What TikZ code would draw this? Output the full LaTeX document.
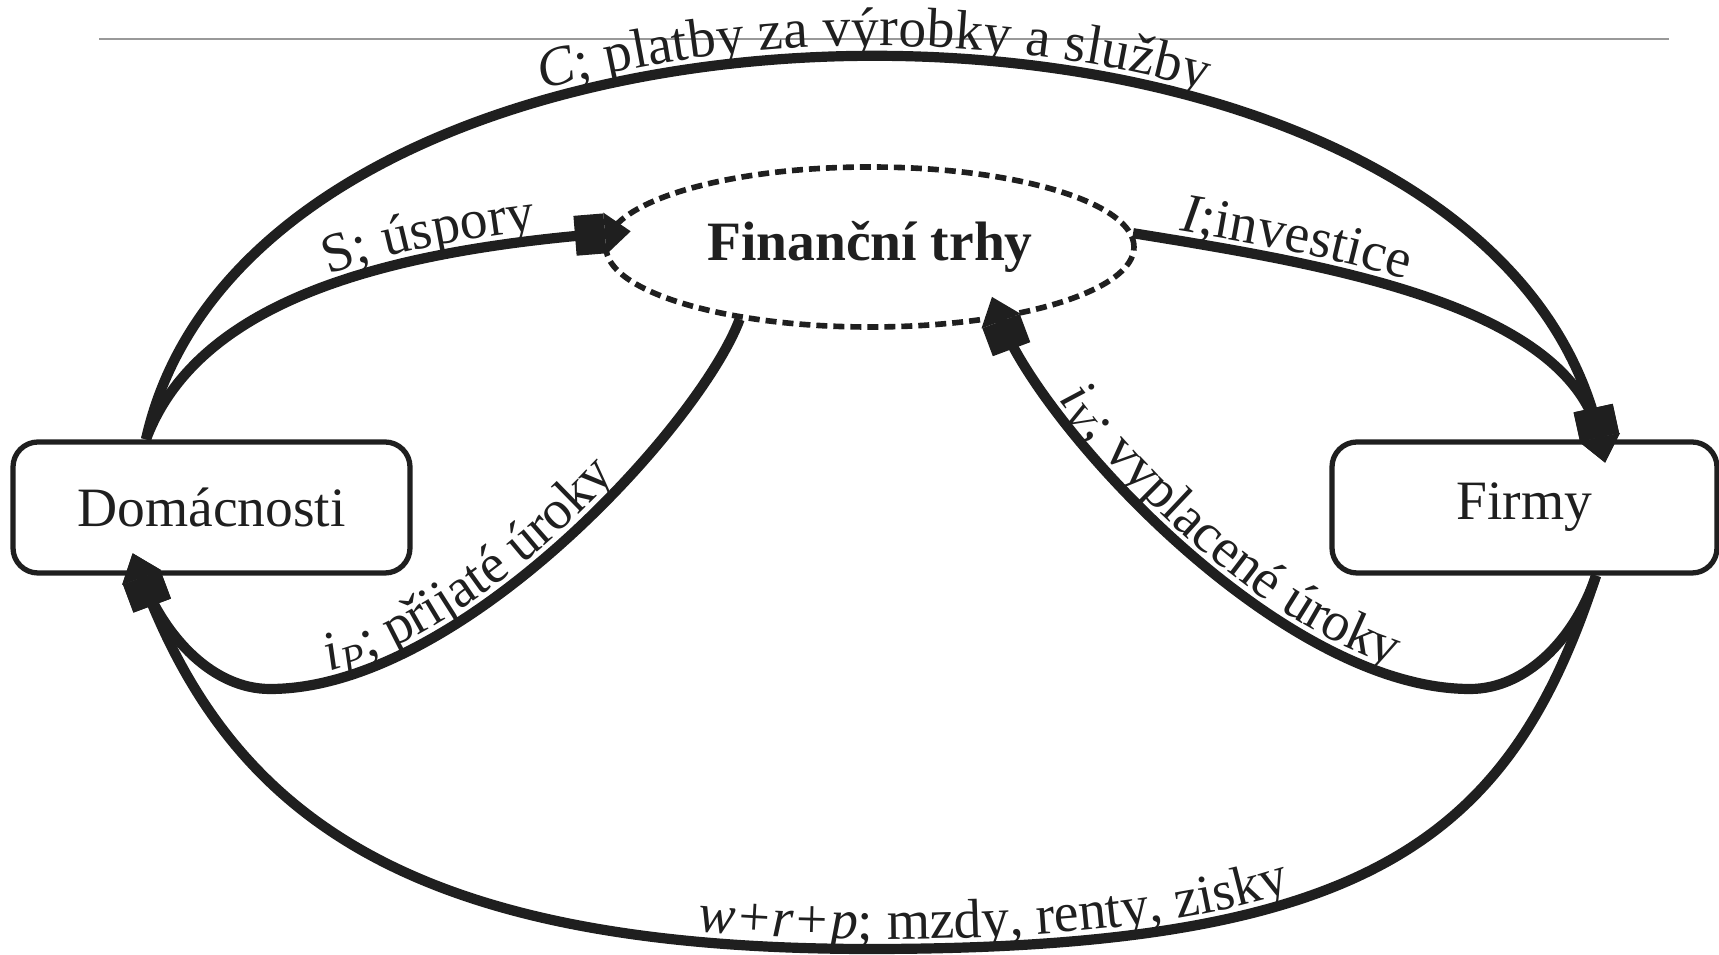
\documentclass[tikz,border=0pt]{standalone}
\usepackage{fontspec}
\setmainfont{Liberation Serif}
\usetikzlibrary{shapes.geometric,arrows.meta,decorations.text}

\begin{document}
\begin{tikzpicture}
	\fontsize{15.8}{18}\selectfont
	\useasboundingbox (0,0) rectangle (17.19,9.55);

	\colorlet{flow ink}{black!88}
	\colorlet{rule ink}{black!40}

	\tikzset{
		sector/.style={draw=flow ink, line width=1.5pt, rounded corners=2.5mm, minimum height=1.31cm, inner sep=0pt, text=flow ink},
		market/.style={ellipse, draw=flow ink, line width=1.6pt, dash pattern=on 1.1mm off 0.6mm, minimum width=5.28cm, minimum height=1.6cm, inner sep=0pt, text=flow ink},
		flow/.style={draw=flow ink, line width=2.9pt, -{Square[length=3.0mm,width=4.0mm]Triangle[length=2.6mm,width=4.0mm]}, shorten >=-2.4mm},
		along/.style={decoration={text along path, raise=2.8pt, text color=flow ink}},
	}

	\draw[rule ink, line width=0.7pt] (0.99,9.16) -- (16.69,9.16); %top rule

	\node[sector, minimum width=3.97cm] (dom) at (2.115,4.475) {Domácnosti};
	\node[sector, minimum width=3.85cm] (fir) at (15.245,4.475) {Firmy};
	\node[market] (fin) at (8.70,7.08) {\bfseries Finanční trhy};

	\coordinate (domtop) at ([xshift=-6.55mm]dom.north);
	\coordinate (dombot) at ([xshift=-7.05mm]dom.south);
	\coordinate (firtop) at ([xshift=7.55mm]fir.north);
	\coordinate (firbot) at ([xshift=7.15mm]fir.south);

	% C
	\draw[flow, postaction={decorate, along, decoration={text={|\itshape|C|\upshape|; platby za výrobky a služby}, text align=center}}]
		(domtop) .. controls (2.6,10.27) and (14.9,10.27) .. (firtop);
	% S
	\draw[flow, postaction={decorate, along, decoration={text={S; úspory}, text align={left indent=2.5cm}}}]
		(domtop) .. controls (2.0,6.6) and (4.0,7.05) .. (fin.177);
	% I
	\draw[flow, postaction={decorate, along, decoration={text={|\itshape|I|\upshape|;investice}, text align={left indent=0.45cm}}}]
		(fin.3) .. controls (13.3,6.9) and (15.7,6.5) .. (firtop);
	% i_P
	\draw[flow, postaction={decorate, along, decoration={reverse path, text={{\itshape i\textsubscript{P}}; přijaté úroky}, text align={left indent=2.45cm}}}]
		(fin.209) .. controls (7.0,5.3) and (4.6,2.66) .. (2.70,2.66)
		.. controls (2.14,2.66) and (1.65,3.16) .. (dombot);
	% i_V
	\draw[flow, postaction={decorate, along, decoration={reverse path, text={{\itshape i\textsubscript{V}}; vyplacené úroky}, text align={left indent=1.0cm}}}]
		(firbot) .. controls (15.75,3.16) and (15.26,2.66) .. (14.70,2.66)
		.. controls (12.8,2.66) and (10.4,5.3) .. (fin.331);
	% w+r+p
	\draw[flow, postaction={decorate, along, decoration={reverse path, text={|\itshape|w+r+p|\upshape|; mzdy, renty, zisky}, text align={left indent=7.1cm}}}]
		(firbot) .. controls (15.10,1.16) and (13.7,0.06) .. (8.7,0.06)
		.. controls (4.1,0.06) and (2.30,1.38) .. (dombot);
\end{tikzpicture}
\end{document}
